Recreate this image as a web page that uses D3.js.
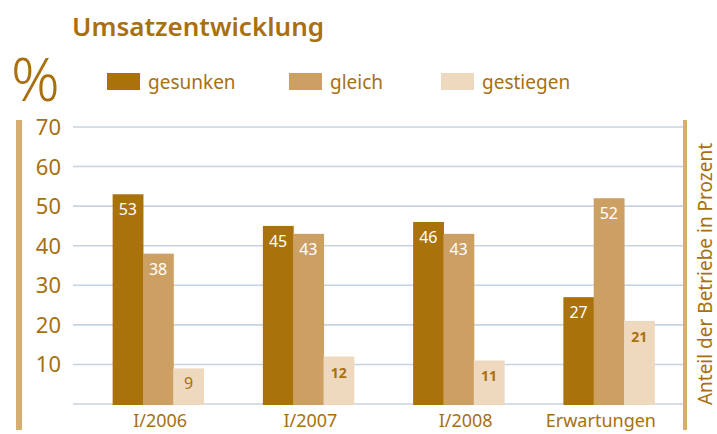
<!DOCTYPE html>
<html>
<head>
<meta charset="utf-8">
<script src="https://cdn.jsdelivr.net/npm/d3@7"></script>
<style>
  body { margin: 0; background: #fff; }
  text { font-family: "Noto Sans", "Open Sans", sans-serif; }
</style>
</head>
<body>
<svg id="chart"></svg>
<script>
// chart data
const categories = ["I/2006", "I/2007", "I/2008", "Erwartungen"];
const seriesNames = ["gesunken", "gleich", "gestiegen"];
const gesunken = [53, 45, 46, 27];
const gleich = [38, 43, 43, 52];
const gestiegen = [9, 12, 11, 21];
const yTicks = [10, 20, 30, 40, 50, 60, 70];

const colors = ["#a9720a", "#cca063", "#eed9bf"];
const textColor = "#a8700e";

const width = 717, height = 434;
const svg = d3.select("#chart").attr("width", width).attr("height", height);

const rows = categories.map((c, i) => ({
  cat: c,
  values: [gesunken[i], gleich[i], gestiegen[i]]
}));

// scales
const yScale = d3.scaleLinear().domain([0, 70]).range([404, 127]);
const xScale = d3.scaleBand().domain(categories).range([83, 684]);
const xInner = d3.scaleBand().domain(seriesNames)
    .range([0, 91]);
const groupOffset = (xScale.bandwidth() - 91) / 2;

// gridlines
svg.append("g").selectAll("line")
  .data([0].concat(yTicks))
  .join("line")
    .attr("x1", 73).attr("x2", 683)
    .attr("y1", d => yScale(d)).attr("y2", d => yScale(d))
    .attr("stroke", "#c6d4e1").attr("stroke-width", 1.6);

// y tick labels
svg.append("g").selectAll("text")
  .data(yTicks)
  .join("text")
    .attr("x", 61)
    .attr("y", d => yScale(d) + 8)
    .attr("text-anchor", "end")
    .attr("fill", textColor)
    .style("font-size", "22px")
    .text(d => d);

// side bars
svg.append("rect").attr("x", 16).attr("y", 120).attr("width", 6).attr("height", 310).attr("fill", "#d6ae72");
svg.append("rect").attr("x", 683).attr("y", 120).attr("width", 4).attr("height", 310).attr("fill", "#d6ae72");

// bars
const groups = svg.append("g").selectAll("g")
  .data(rows)
  .join("g")
    .attr("transform", d => `translate(${xScale(d.cat) + groupOffset},0)`);

const cells = groups.selectAll("g")
  .data(d => d.values.map((v, j) => ({ name: seriesNames[j], v: v, j: j })))
  .join("g");

cells.append("rect")
    .attr("x", d => xInner(d.name))
    .attr("width", xInner.bandwidth() + 0.5)
    .attr("y", d => yScale(d.v))
    .attr("height", d => yScale(0) - yScale(d.v) + 1)
    .attr("fill", d => colors[d.j]);

cells.append("text")
    .attr("x", d => xInner(d.name) + xInner.bandwidth() / 2)
    .attr("y", d => yScale(d.v) + 21)
    .attr("text-anchor", "middle")
    .attr("fill", d => d.j == 2 ? textColor : "#fff")
    .style("font-size", d => (d.j == 2 && d.v >= 10) ? "14px" : "16px")
    .style("font-weight", d => (d.j == 2 && d.v >= 10) ? "bold" : "normal")
    .text(d => d.v);

// category labels
svg.append("g").selectAll("text")
  .data(categories)
  .join("text")
    .attr("x", (d, i) => xScale(d) + xScale.bandwidth() / 2 + [2, 2, 7, -8][i])
    .attr("y", 427)
    .attr("text-anchor", "middle")
    .attr("fill", textColor)
    .style("font-size", "18px")
    .text(d => d);

// title and percent sign
svg.append("text").attr("x", 72).attr("y", 36)
  .attr("fill", textColor).style("font-size", "26px").style("font-weight", "600")
  .text("Umsatzentwicklung");
svg.append("text").attr("x", 11).attr("y", 101)
  .attr("fill", textColor).style("font-size", "60px").style("font-weight", "300")
  .text("%");

// legend
const legendX = [107, 289, 441];
const legend = svg.append("g").selectAll("g")
  .data(seriesNames)
  .join("g")
    .attr("transform", (d, i) => `translate(${legendX[i]},73)`);
legend.append("rect").attr("width", 33).attr("height", 17).attr("fill", (d, i) => colors[i]);
legend.append("text").attr("x", 41).attr("y", 16)
  .attr("fill", textColor).style("font-size", "19px").text(d => d);

// right axis title
svg.append("text")
  .attr("transform", "translate(712,274) rotate(-90)")
  .attr("text-anchor", "middle")
  .attr("fill", textColor)
  .style("font-size", "19px")
  .text("Anteil der Betriebe in Prozent");
</script>
</body>
</html>
